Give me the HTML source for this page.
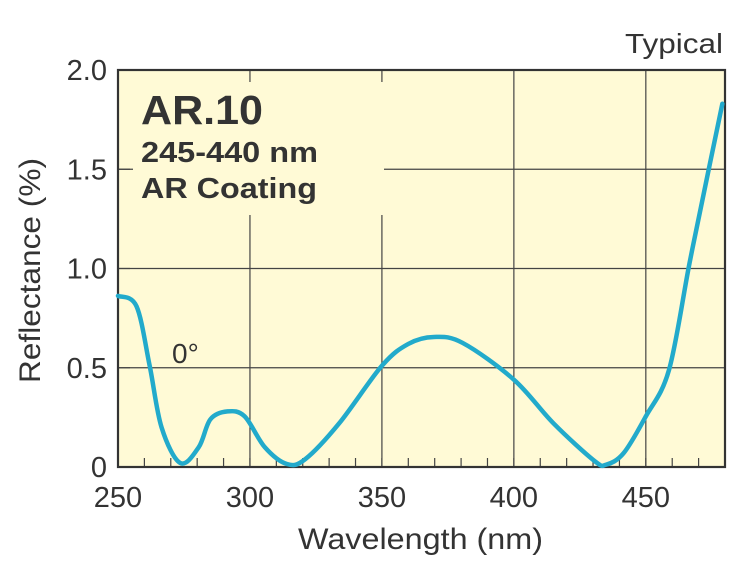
<!DOCTYPE html>
<html><head><meta charset="utf-8"><style>
body{margin:0;background:#fff;}
svg{display:block;font-family:"Liberation Sans",Arial,sans-serif;}
</style></head><body>
<svg id="chart" width="747" height="587" viewBox="0 0 747 587" xmlns="http://www.w3.org/2000/svg">
<rect x="118" y="70" width="607" height="397" fill="#fffad6"/>
<g id="grid"></g>
<rect x="133" y="82" width="251" height="133" fill="#fffad6"/>
<g id="ticks"></g>
<rect x="118" y="70" width="607" height="397" fill="none" stroke="#333" stroke-width="2.2"/>
<path id="series" fill="none" stroke="#22aacb" stroke-width="4.5" stroke-linejoin="round" stroke-linecap="round"/>
<text x="141" y="124" font-size="41" font-weight="bold" fill="#333" textLength="122" lengthAdjust="spacingAndGlyphs">AR.10</text>
<text x="141" y="162" font-size="29" font-weight="bold" fill="#333" textLength="177" lengthAdjust="spacingAndGlyphs">245-440 nm</text>
<text x="141" y="198" font-size="29" font-weight="bold" fill="#333" textLength="176" lengthAdjust="spacingAndGlyphs">AR Coating</text>
<text x="172" y="363" font-size="28" fill="#333">0°</text>
<text x="625" y="53" font-size="28" fill="#333" textLength="98" lengthAdjust="spacingAndGlyphs">Typical</text>
<text x="298" y="549" font-size="30" fill="#333" textLength="245" lengthAdjust="spacingAndGlyphs">Wavelength (nm)</text>
<text transform="translate(40,383) rotate(-90)" font-size="30" fill="#333" textLength="225" lengthAdjust="spacingAndGlyphs">Reflectance (%)</text>
</svg>
<script>
const wavelengths=[250,257,262,266.5,273.6,280.6,285,291.5,298,305.6,314,321,333.8,350,360,369.7,380.6,400,415,430.6,435,441.6,450,458.8,466.6,474,479];
const reflectance=[0.862,0.81,0.51,0.2,0.02,0.10,0.24,0.28,0.255,0.10,0.015,0.04,0.22,0.51,0.62,0.655,0.625,0.44,0.22,0.03,0.012,0.07,0.255,0.49,1.03,1.51,1.83];
const xTicks=[250,300,350,400,450];
const yTicks=[0,0.5,1.0,1.5,2.0];
const yTickLabels=["0","0.5","1.0","1.5","2.0"];
const X0=118,X1=725,Y0=467,Y1=70,XMIN=250,XMAX=480,YMIN=0,YMAX=2;
const sx=v=>X0+(v-XMIN)/(XMAX-XMIN)*(X1-X0);
const sy=v=>Y0-(v-YMIN)/(YMAX-YMIN)*(Y0-Y1);
const NS="http://www.w3.org/2000/svg";
const svg=document.getElementById('chart');
const grid=document.getElementById('grid'),ticks=document.getElementById('ticks');
function mk(tag,attrs,parent){const e=document.createElementNS(NS,tag);for(const k in attrs)e.setAttribute(k,attrs[k]);parent.appendChild(e);return e;}
xTicks.forEach(t=>{
  if(t>XMIN){const g=mk('line',{x1:sx(t),x2:sx(t),y1:Y1,y2:Y0,stroke:'#444','stroke-width':1.2},grid);
  
  }
  const l=mk('text',{x:sx(t),y:507,'font-size':29,fill:'#333','text-anchor':'middle'},svg);
  l.textContent=t;
  
  
});
for(let t=260;t<XMAX;t+=10){
  const m=mk('line',{x1:sx(t),x2:sx(t),y1:Y0,y2:Y0-9,stroke:'#444','stroke-width':1.2},ticks);
  
  
}
yTicks.forEach((t,i)=>{
  if(t>YMIN&&t<YMAX){const g=mk('line',{x1:X0,x2:X1,y1:sy(t),y2:sy(t),stroke:'#444','stroke-width':1.2},grid);
  
  
  const tk=mk('line',{x1:X0,x2:X0+12,y1:sy(t),y2:sy(t),stroke:'#444','stroke-width':1.2},ticks);
  
  }
  const l=mk('text',{x:107,y:sy(t)+10,'font-size':29,fill:'#333','text-anchor':'end'},svg);
  l.textContent=yTickLabels[i];
  
  
});
const pts=wavelengths.map((w,i)=>[sx(w),sy(reflectance[i])]);
let d='M'+pts[0][0]+','+pts[0][1];
for(let i=0;i<pts.length-1;i++){
  const p0=pts[Math.max(0,i-1)],p1=pts[i],p2=pts[i+1],p3=pts[Math.min(pts.length-1,i+2)];
  const c1=[p1[0]+(p2[0]-p0[0])/6,p1[1]+(p2[1]-p0[1])/6];
  const c2=[p2[0]-(p3[0]-p1[0])/6,p2[1]-(p3[1]-p1[1])/6];
  d+=' C'+c1+' '+c2+' '+p2;
}
document.getElementById('series').setAttribute('d',d);
</script>
</body></html>
